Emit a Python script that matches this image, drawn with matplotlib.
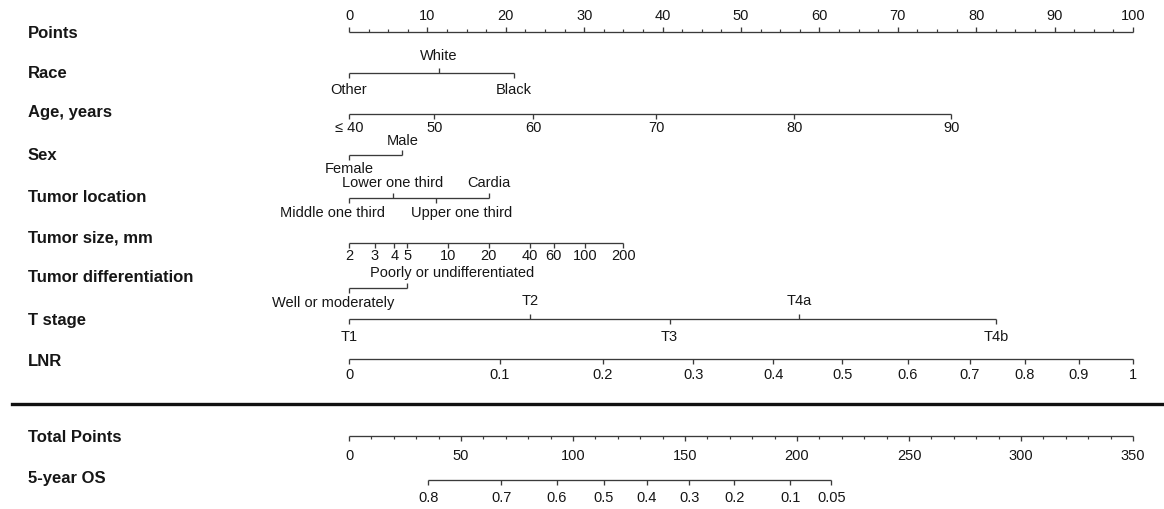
import matplotlib
matplotlib.use('Agg')
import matplotlib.pyplot as plt
import numpy as np

# ---------------- data ----------------
row_names = ['Points', 'Race', 'Age, years', 'Sex', 'Tumor location', 'Tumor size, mm',
             'Tumor differentiation', 'T stage', 'LNR', 'Total Points', '5-year OS']

points_major = [0, 10, 20, 30, 40, 50, 60, 70, 80, 90, 100]
points_minor_step = 2.5

race_labels = ['Other', 'White', 'Black']
race_points = [0, 11.5, 21.0]

age_labels = ['\u2264 40', '50', '60', '70', '80', '90']
age_points = [0, 10.9, 23.5, 39.2, 56.8, 76.8]

sex_labels = ['Female', 'Male']
sex_points = [0, 6.8]

loc_labels = ['Middle one third', 'Lower one third', 'Upper one third', 'Cardia']
loc_points = [0, 5.6, 11.1, 17.8]

size_labels = ['2', '3', '4', '5', '10', '20', '40', '60', '100', '200']
size_points = [0, 3.3, 5.8, 7.4, 12.6, 17.8, 23.1, 26.1, 30.1, 35.0]

diff_labels = ['Well or moderately', 'Poorly or undifferentiated']
diff_points = [0, 7.4]

t_labels = ['T1', 'T2', 'T3', 'T4a', 'T4b']
t_points = [0, 23.1, 40.9, 57.4, 82.5]

lnr_labels = ['0', '0.1', '0.2', '0.3', '0.4', '0.5', '0.6', '0.7', '0.8', '0.9', '1']
lnr_points = [0, 19.2, 32.4, 43.9, 54.1, 62.9, 71.3, 79.2, 86.2, 93.1, 100]

total_major = [0, 50, 100, 150, 200, 250, 300, 350]
total_minor_step = 10
total_max = 350

os_labels = ['0.8', '0.7', '0.6', '0.5', '0.4', '0.3', '0.2', '0.1', '0.05']
os_total = [35.3, 67.9, 92.7, 113.8, 132.9, 152.0, 172.0, 197.0, 215.3]

# ---------------- layout / style ----------------
W, H = 1164, 509
X0, PX = 349, 7.84            # pixel of 0 points, pixels per point
LINE_C = '#3a3a3a'
TEXT_C = '#161616'
LW = 0.95
FONT = 'Liberation Sans'
FS = 10.5

fig = plt.figure(figsize=(W / 100, H / 100), dpi=100)
ax = fig.add_axes([0, 0, 1, 1])
ax.set_xlim(-X0 / PX, (W - X0) / PX)
ax.set_ylim(H, 0)
ax.axis('off')

# horizontal nudges (pixels) for some labels, as in the reference
nudge = {'Middle one third': -16, 'Upper one third': 26,
         'Poorly or undifferentiated': 45, 'Well or moderately': -16}


def scale(y, pos, labels, sides, tick=5, off=15, fs=FS, minor=None, minor_len=3):
    ax.plot([min(pos), max(pos)], [y, y], color=LINE_C, lw=LW, solid_capstyle='butt')
    for p, lab, s in zip(pos, labels, sides):
        d = -1 if s == 'above' else 1
        ax.plot([p, p], [y, y + d * tick], color=LINE_C, lw=LW, solid_capstyle='butt')
        xp = p + nudge.get(lab, 0) / PX
        ax.text(xp, y + d * off, lab, ha='center', va='center', fontsize=fs,
                family=FONT, color=TEXT_C)
    if minor is not None:
        d = -1 if sides[0] == 'above' else 1
        for m in minor:
            ax.plot([m, m], [y, y + d * minor_len], color=LINE_C, lw=LW * 0.9,
                    solid_capstyle='butt')


def alt(n):
    return ['below' if i % 2 == 0 else 'above' for i in range(n)]


# Points
pmin = [v for v in np.arange(0, 100.01, points_minor_step) if v % 10 != 0]
scale(32, points_major, [str(v) for v in points_major], ['above'] * len(points_major),
      tick=5, off=16, minor=pmin)
scale(73, race_points, race_labels, alt(len(race_points)), off=17)
scale(114, age_points, age_labels, ['below'] * len(age_points), off=14)
scale(155, sex_points, sex_labels, alt(len(sex_points)), off=14)
scale(198, loc_points, loc_labels, alt(len(loc_points)), off=15)
scale(243, size_points, size_labels, ['below'] * len(size_points), off=13)
scale(288, diff_points, diff_labels, alt(len(diff_points)), off=15)
scale(319, t_points, t_labels, alt(len(t_points)), off=18)
scale(359, lnr_points, lnr_labels, ['below'] * len(lnr_points), off=16)

# separator
ax.axhline(404, xmin=12 / W, xmax=1162 / W, color='#111111', lw=2.4)

# Total points and 5-year OS (total points mapped onto the 0-100 points span)
k = 100.0 / total_max
tmin = [v * k for v in range(0, total_max + 1, total_minor_step) if v % 50 != 0]
scale(436, [v * k for v in total_major], [str(v) for v in total_major],
      ['below'] * len(total_major), off=20, minor=tmin)
scale(480, [v * k for v in os_total], os_labels, ['below'] * len(os_total), off=18)

row_y = [33, 73, 113, 156, 198, 238, 278, 321, 361, 437, 478]
for name, yy in zip(row_names, row_y):
    fig.text(28 / W, 1 - yy / H, name, ha='left', va='center', fontsize=12,
             fontweight='bold', family=FONT, color=TEXT_C)

fig.savefig('out.png', dpi=100, facecolor='white')
